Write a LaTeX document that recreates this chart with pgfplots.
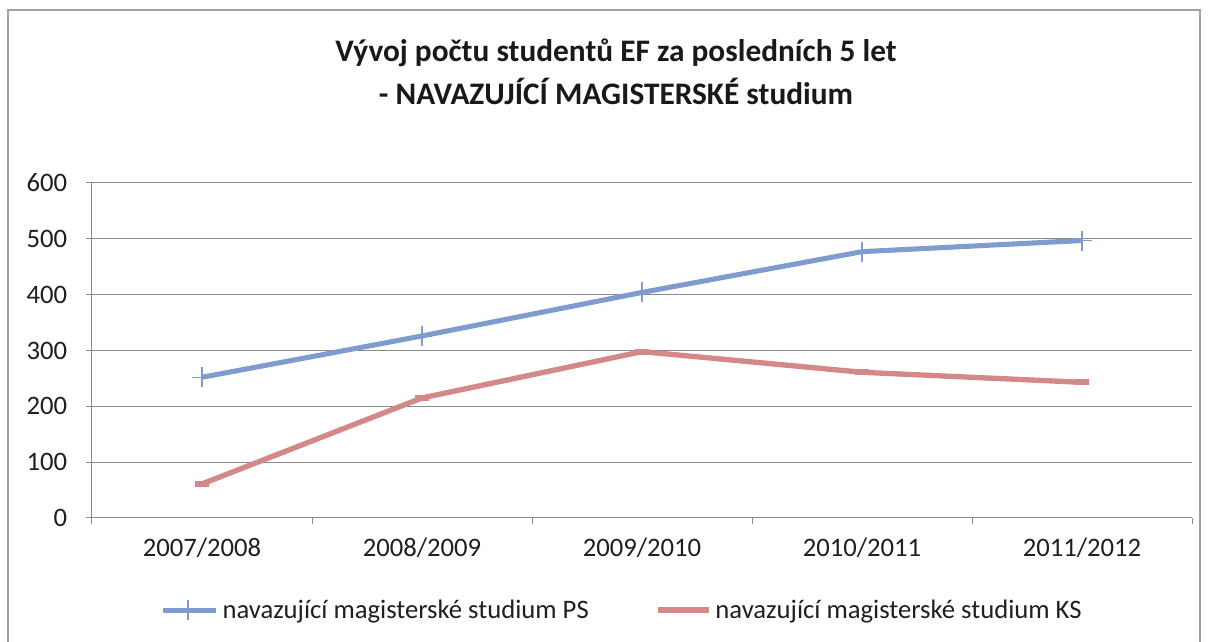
\documentclass[border=0pt]{standalone}
\usepackage{pgfplots}
\pgfplotsset{compat=1.18}
\usepackage{fontspec}
\setmainfont{Carlito}
\definecolor{psblue}{HTML}{7F9BD0}
\definecolor{ksred}{HTML}{D3898A}
\definecolor{gridgray}{HTML}{8A8A8A}
\pgfplotsset{
  pslegend/.style={legend image code/.code={\draw[##1, mark=none] (0pt,0pt) -- (40pt,0pt); \draw[##1, only marks] plot coordinates {(19pt,0pt)};}},
  kslegend/.style={legend image code/.code={\draw[##1, mark=none] (0pt,0pt) -- (38pt,0pt);}},
}
\begin{document}
\begin{tikzpicture}
\path[use as bounding box] (0,0) rectangle (906pt,481.5pt);
\draw[gridgray!80, line width=1pt] (6pt,-5pt) -- (6pt,474pt) -- (900pt,474pt) -- (900pt,-5pt);
\node[font=\fontsize{23.5pt}{26pt}\selectfont\bfseries, text=black!90] at (462pt,442pt) {Vývoj počtu studentů EF za posledních 5 let};
\node[font=\fontsize{23.5pt}{26pt}\selectfont\bfseries, text=black!90] at (462pt,413pt) {- NAVAZUJÍCÍ MAGISTERSKÉ studium};
\begin{axis}[
  at={(69pt,93pt)}, anchor=south west,
  scale only axis, width=825pt, height=251.25pt,
  xmin=-0.5, xmax=4.5, ymin=0, ymax=600,
  ytick={0,100,...,600},
  xtick={0,1,2,3,4},
  xticklabels={2007/2008,2008/2009,2009/2010,2010/2011,2011/2012},
  minor xtick={-0.5,0.5,1.5,2.5,3.5,4.5},
  major x tick style={draw=none},
  tick align=outside,
  major tick length=4.5pt, minor tick length=4.5pt,
  every tick/.style={gridgray, line width=0.75pt},
  axis x line*=bottom, axis y line*=left,
  axis line style={gridgray, line width=0.75pt, -},
  ymajorgrids, grid style={gridgray, line width=0.75pt},
  /pgf/number format/assume math mode=true,
  tick label style={font=\fontsize{20pt}{22pt}\selectfont, text=black!88},
  xticklabel style={inner sep=0pt, yshift=-10pt},
  yticklabel style={inner sep=0pt, xshift=-14pt},
  clip=false,
  legend columns=2,
  legend style={at={(0.482,-0.275)}, anchor=center, draw=none, fill=none,
    font=\fontsize{20pt}{22pt}\selectfont, text=black!88,
    /tikz/every even column/.append style={column sep=48pt},
    /tikz/every odd column/.append style={column sep=1pt}},
  legend cell align=left,
]
\addplot[psblue, line width=3.8pt, mark=+, mark size=7.5pt, mark options={line width=1.1pt, psblue}, pslegend]
  coordinates {(0,252) (1,326) (2,404) (3,477) (4,497)};
\addlegendentry{navazující magisterské studium PS}
\addplot[ksred, line width=4pt, mark=-, mark size=5pt, mark options={line width=4.5pt, ksred}, kslegend]
  coordinates {(0,61) (1,215) (2,298) (3,261) (4,243)};
\addlegendentry{navazující magisterské studium KS}
\end{axis}
\end{tikzpicture}
\end{document}
